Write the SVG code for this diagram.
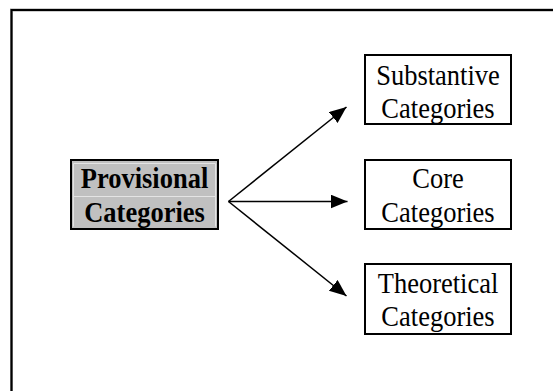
<svg xmlns="http://www.w3.org/2000/svg" width="553" height="391" viewBox="0 0 553 391">
  <style>
    .frame { fill: none; stroke: #000; stroke-width: 2; }
    .box { fill: #fff; stroke: #000; stroke-width: 2; }
    .box-main { fill: #c0c0c0; stroke: #000; stroke-width: 2; }
    .cell-rule { stroke: #e4e4e4; stroke-width: 1; fill: none; }
    .label { font-family: "Liberation Serif", "Times New Roman", serif; font-size: 26.5px; fill: #000; text-anchor: middle; }
    .bold { font-weight: bold; }
    .conn { stroke: #000; stroke-width: 1.5; fill: none; marker-end: url(#arrow); }
  </style>
  <defs>
    <marker id="arrow" markerUnits="userSpaceOnUse" markerWidth="19" markerHeight="16" refX="17" refY="7" orient="auto">
      <path d="M0,0 L17,7 L0,14 Z" fill="#000"/>
    </marker>
  </defs>

  <rect width="553" height="391" fill="#fff"/>

  <!-- outer page frame, running off the right and bottom edges -->
  <rect x="11.5" y="10" width="560" height="400" fill="none" stroke="#a0a0a0" stroke-width="3"/>
  <rect class="frame" x="11.5" y="10" width="560" height="400"/>

  <g id="provisional">
    <rect class="box-main" x="71" y="160" width="147" height="69"/>
    <path class="cell-rule" d="M73.5,163.5 H215.5 M73.5,196.5 H215.5 M73.5,163.5 V226.5 M215.5,163.5 V226.5"/>
    <text class="label bold" transform="translate(144.5,188) scale(1,1.1)">Provisional</text>
    <text class="label bold" transform="translate(144.5,221.5) scale(1,1.1)">Categories</text>
  </g>

  <g id="substantive">
    <rect class="box" x="365" y="55" width="146" height="69"/>
    <text class="label" transform="translate(438,85) scale(1,1.1)">Substantive</text>
    <text class="label" transform="translate(438,118) scale(1,1.1)">Categories</text>
  </g>

  <g id="core">
    <rect class="box" x="365" y="160" width="146" height="69"/>
    <text class="label" transform="translate(438,188) scale(1,1.1)">Core</text>
    <text class="label" transform="translate(438,221.5) scale(1,1.1)">Categories</text>
  </g>

  <g id="theoretical">
    <rect class="box" x="365" y="264" width="146" height="70"/>
    <text class="label" transform="translate(438,293) scale(1,1.1)">Theoretical</text>
    <text class="label" transform="translate(438,325.5) scale(1,1.1)">Categories</text>
  </g>

  <g id="connectors">
    <line class="conn" x1="228.5" y1="201.5" x2="346.5" y2="107"/>
    <line class="conn" x1="228.5" y1="201.5" x2="347.5" y2="201.5"/>
    <line class="conn" x1="228.5" y1="201.5" x2="346.5" y2="296"/>
  </g>
</svg>
